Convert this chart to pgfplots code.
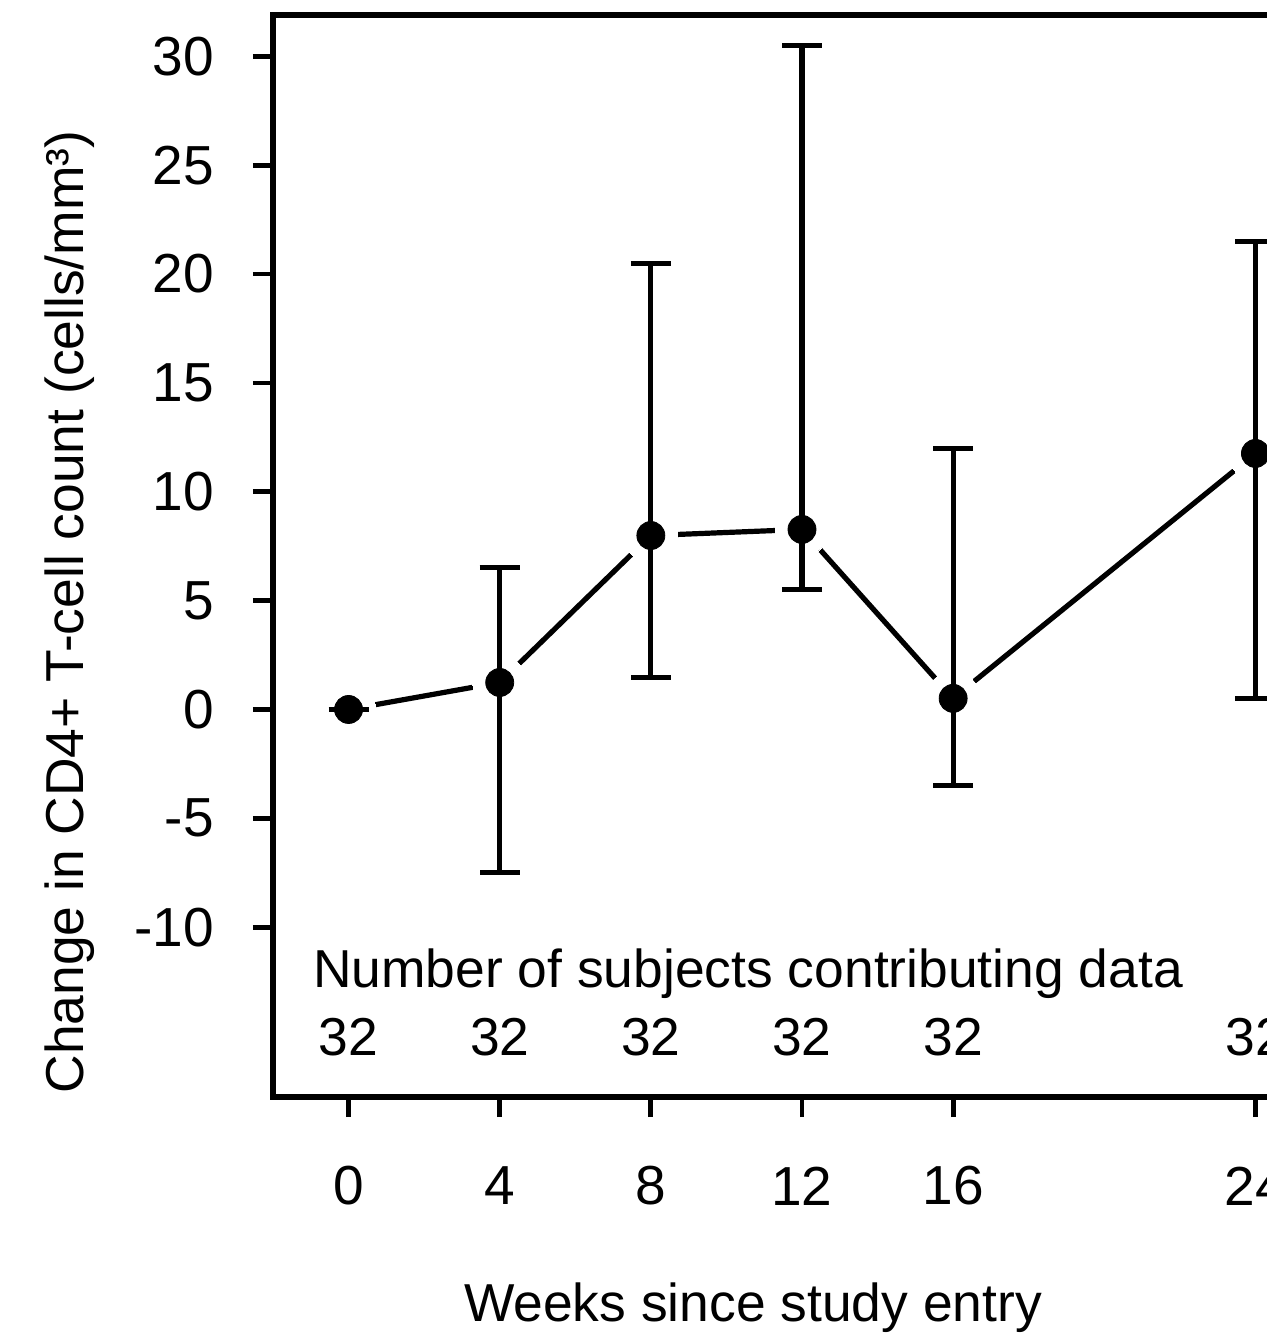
\documentclass[border=0pt]{standalone}
\usepackage{pgfplots}
\pgfplotsset{compat=1.18}
\usepackage{fontspec}
\setmainfont{Liberation Sans}
\begin{document}
\fontsize{26.7}{32}\selectfont
\begin{tikzpicture}
\begin{axis}[
  name=ax, set layers,
  scale only axis, width=529pt, height=541pt,
  xmin=-2, xmax=26, ymin=-17.8, ymax=31.9,
  axis line style={line width=2.6pt},
  xtick={0,4,8,12,16,24}, ytick={-10,-5,0,5,10,15,20,25,30},
  tick pos=left, tick align=outside, major tick length=10pt,
  tick style={line width=2.4pt, black},
  /pgf/number format/assume math mode=true,
  tick label style={font=\fontsize{27.5}{32}\selectfont},
  xticklabel style={anchor=center, yshift=-34.5pt},
  yticklabel style={anchor=east, xshift=-10.5pt},
  ylabel={Change in CD4+ T-cell count (cells/mm³)},
  ylabel style={at={(axis description cs:-0.1919,0.4482)}, anchor=center, font=\fontsize{26.7}{32}\selectfont},
  xlabel={Weeks since study entry},
  xlabel style={at={(axis description cs:0.4537,-0.195)}, anchor=center, font=\fontsize{26.7}{32}\selectfont},
  clip=false,
]
% white halos to create gaps in connecting line
\addplot[black, line width=2.6pt, mark=*, mark size=13.5pt, mark options={fill=white, draw=white, line width=0pt}]
  coordinates {(0,0) (4,1.24) (8,7.99) (12,8.27) (16,0.51) (24,11.76)};
% markers
\addplot[black, only marks, mark=*, mark size=7pt]
  coordinates {(0,0) (4,1.24) (8,7.99) (12,8.27) (16,0.51) (24,11.76)};
% error bars (on top)
\addplot[on layer=axis foreground, black, line width=2.6pt, only marks, mark=none,
  error bars/.cd, y dir=both, y explicit, error mark=|,
  error bar style={line width=2.6pt, black},
  error mark options={line width=2.6pt, mark size=10pt, black}]
  coordinates {
    (0,0) += (0,0.0001) -= (0,0.0001)
    (4,1.24) += (0,5.28) -= (0,8.73)
    (8,7.99) += (0,12.49) -= (0,6.52)
    (12,8.27) += (0,22.22) -= (0,2.76)
    (16,0.51) += (0,11.48) -= (0,4.0)
    (24,11.76) += (0,9.73) -= (0,11.25)
  };
\node[anchor=west] at (axis description cs:0.0208,0.1137) {Number of subjects contributing data};
\node at (axis cs:0,-15.06) {32};
\node at (axis cs:4,-15.06) {32};
\node at (axis cs:8,-15.06) {32};
\node at (axis cs:12,-15.06) {32};
\node at (axis cs:16,-15.06) {32};
\node at (axis cs:24,-15.06) {32};
\end{axis}
\pgfresetboundingbox
\path[use as bounding box] ([xshift=-136.5pt,yshift=-118pt]ax.south west) rectangle ([xshift=496.5pt,yshift=7.5pt]ax.north west);
\end{tikzpicture}
\end{document}
